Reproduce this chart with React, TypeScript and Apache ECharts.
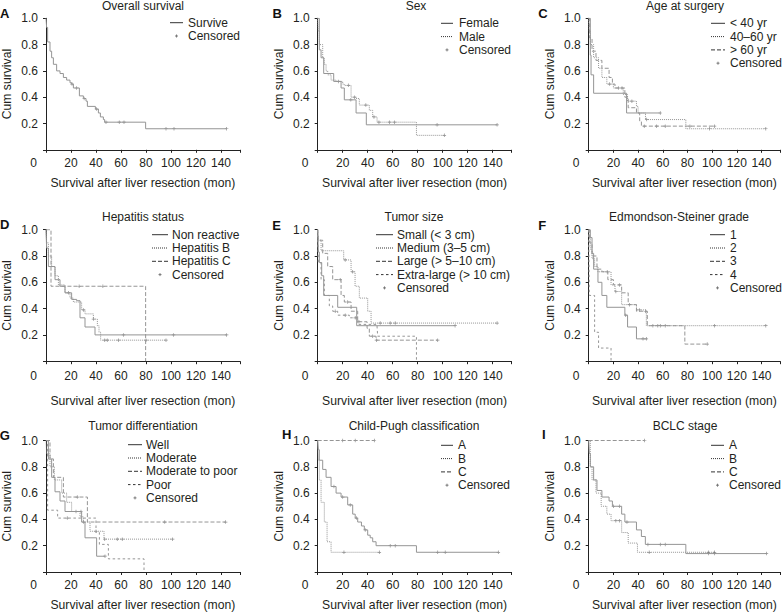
import React, { useEffect, useRef } from 'react';
import * as echarts from 'echarts';

type Pt = [number, number];

// ---------- Data (months, cumulative survival) ----------
// A. Overall survival
const aSurvive: Pt[] = [[0,1],[0.5,0.93],[1.3,0.82],[3.2,0.75],[4.5,0.7],[5.9,0.65],[8.5,0.6],[11.2,0.58],[13.9,0.55],[16.5,0.53],[19.2,0.51],[20.5,0.5],[21.9,0.47],[26.7,0.41],[29.9,0.39],[32,0.37],[33.1,0.33],[39.5,0.31],[41.9,0.28],[43.5,0.25],[45.9,0.23],[46.9,0.21],[79.7,0.16],[144.5,0.16]];
const aSurviveCens = [20.8, 24.5, 30.5, 40.5, 48, 58.6, 62.4, 96, 102.4, 144.5];
// B. Sex
const bFemale: Pt[] = [[0,1],[1.3,0.76],[2.7,0.7],[4.8,0.58],[12.8,0.52],[18.7,0.47],[21.3,0.38],[30.7,0.28],[38.9,0.19],[143.5,0.19]];
const bFemaleCens = [26.5, 95.5, 143.5];
const bMale: Pt[] = [[0,1],[0.5,0.9],[1.3,0.8],[4,0.7],[5.3,0.65],[6.7,0.6],[8,0.57],[10.7,0.53],[14.7,0.52],[20,0.5],[21.3,0.49],[26.7,0.4],[30.7,0.39],[33.3,0.34],[41.3,0.3],[44,0.25],[47.5,0.21],[79,0.11],[101.3,0.11]];
const bMaleCens = [16.5, 24.5, 29.5, 38.5, 45, 49, 57.5, 61.5, 101.3];
// C. Age at surgery
const cYoung: Pt[] = [[0,1],[1.3,0.72],[1.9,0.57],[4,0.43],[30.7,0.28],[58,0.28]];
const cYoungCens = [58];
const cMiddle: Pt[] = [[0,1],[0.5,0.9],[1.3,0.8],[4,0.7],[8,0.62],[10.7,0.55],[14.7,0.5],[20,0.47],[28,0.42],[31.5,0.37],[38.7,0.33],[40,0.28],[46,0.23],[78.7,0.16],[143.5,0.16]];
const cMiddleCens = [17, 24, 35, 47, 98, 143.5];
const cOld: Pt[] = [[0,1],[0.8,0.85],[2.7,0.75],[5.9,0.68],[10.7,0.62],[16.5,0.55],[19.2,0.5],[21.3,0.47],[29.3,0.4],[32,0.32],[38.7,0.28],[41.3,0.22],[42.7,0.18],[101.9,0.18]];
const cOldCens = [27, 45, 55, 62, 82, 101.9];
// D. Hepatitis status
const dNon: Pt[] = [[0,1],[0.5,0.86],[1.9,0.72],[7.2,0.62],[11.2,0.57],[15.2,0.52],[20.5,0.47],[24.5,0.46],[27.2,0.33],[31.2,0.26],[39.2,0.2],[144.5,0.2]];
const dNonCens = [62, 102, 144.5];
const dHepB: Pt[] = [[0,1],[0.5,0.9],[1.9,0.8],[4.5,0.72],[7.2,0.65],[9.9,0.58],[15.2,0.52],[19.2,0.48],[21.9,0.45],[28.5,0.39],[31.2,0.36],[37.9,0.32],[41.1,0.27],[42.4,0.22],[43.7,0.16],[96,0.16]];
const dHepBCens = [18, 30, 38, 47, 49, 58, 80, 96];
const dHepC: Pt[] = [[0,1],[4,0.57],[79.7,0]];
const dHepCCens = [26.5, 45.5];
// E. Tumor size
const eSmall: Pt[] = [[0,1],[0.5,0.83],[1.3,0.75],[3.2,0.65],[4.8,0.5],[16,0.41],[31.2,0.27],[109.9,0.27]];
const eSmallCens = [109.9];
const eMedium: Pt[] = [[0,1],[0.5,0.92],[2.7,0.84],[20.8,0.77],[26.7,0.68],[29.9,0.57],[33.3,0.48],[40,0.38],[42.7,0.29],[143.5,0.29]];
const eMediumCens = [22, 28, 50, 58, 62, 143.5];
const eLarge: Pt[] = [[0,1],[0.5,0.92],[4,0.82],[8,0.72],[12,0.62],[18.7,0.5],[21.3,0.45],[26.7,0.38],[32,0.3],[39.5,0.25],[41.3,0.19],[46.7,0.16],[96,0.16]];
const eLargeCens = [18, 24, 33, 44, 47, 96];
const eXLarge: Pt[] = [[0,1],[0.5,0.75],[2.7,0.62],[5.3,0.5],[9.3,0.42],[12,0.38],[16,0.35],[25.3,0.33],[32,0.28],[47.5,0.26],[48,0.19],[79,0]];
const eXLargeCens = [14, 22, 30];
// F. Edmondson-Steiner grade
const fG1: Pt[] = [[0,1],[1.3,0.94],[2.7,0.82],[4,0.7],[7.5,0.6],[10.7,0.5],[14.7,0.41],[29.3,0.35],[31.5,0.26],[38.7,0.17],[46.7,0.17]];
const fG1Cens = [30, 44, 46.7];
const fG2: Pt[] = [[0,1],[0.5,0.94],[1.3,0.85],[2.7,0.78],[4.8,0.72],[7.5,0.68],[18.1,0.58],[21.3,0.53],[26.7,0.43],[38.7,0.39],[46.7,0.27],[143.5,0.27]];
const fG2Cens = [15, 22, 41, 52, 58, 62, 102, 143.5];
const fG3: Pt[] = [[0,1],[0.8,0.9],[2.7,0.8],[6.7,0.7],[10.7,0.68],[15.5,0.62],[20,0.58],[26.7,0.52],[32,0.43],[38.7,0.38],[47.5,0.27],[77.9,0.13],[96,0.13]];
const fG3Cens = [25, 33, 46, 56, 96];
const fG4: Pt[] = [[0,1],[0.5,0.5],[4.8,0.22],[8,0.1],[18.1,0]];
const fG4Cens: number[] = [];
// G. Tumor differentiation
const gWell: Pt[] = [[0,1],[1.9,0.86],[4.5,0.72],[7.2,0.61],[11.2,0.54],[15.2,0.46],[28.5,0.38],[31.2,0.26],[40.5,0.12],[47.2,0.12]];
const gWellCens = [28, 47.2];
const gModerate: Pt[] = [[0,1],[0.5,0.9],[3.2,0.8],[6.7,0.7],[12.5,0.6],[16.5,0.53],[20.5,0.46],[27.2,0.42],[29.9,0.38],[35.2,0.31],[46.4,0.25],[101.3,0.25]];
const gModerateCens = [24, 30, 40, 47, 57, 61, 101.3];
const gModPoor: Pt[] = [[0,1],[3.2,0.86],[5.9,0.72],[13.9,0.57],[33.1,0.38],[143.7,0.38]];
const gModPoorCens = [25, 95, 143.7];
const gPoor: Pt[] = [[0,1],[1.3,0.47],[9.3,0.41],[40,0.3],[42.7,0.21],[49.9,0.1],[78.4,0]];
const gPoorCens = [17];
// H. Child-Pugh classification
const hA: Pt[] = [[0,1],[0.5,0.93],[1.3,0.85],[4,0.78],[6.7,0.72],[10.7,0.65],[14.7,0.6],[18.7,0.57],[24,0.51],[28,0.44],[30,0.41],[32,0.38],[35,0.35],[37.3,0.32],[40,0.28],[42,0.26],[44,0.23],[46.7,0.2],[79,0.15],[144.5,0.15]];
const hACens = [13, 20, 26, 31, 38, 58, 62, 96, 102, 144.5];
const hB: Pt[] = [[0,1],[0.5,0.85],[1.3,0.7],[2.7,0.53],[5.3,0.38],[7.5,0.23],[10.7,0.15],[49.3,0.15]];
const hBCens = [21, 49.3];
const hC: Pt[] = [[0,1],[45.3,1]];
const hCCens = [20, 30, 45.3];
// I. BCLC stage
const iA: Pt[] = [[0,1],[0.5,0.9],[1.3,0.8],[4,0.7],[6.7,0.62],[10.7,0.57],[16.5,0.54],[19.2,0.5],[26.7,0.44],[29.3,0.38],[38.7,0.32],[42.7,0.27],[45.9,0.21],[78.7,0.14],[144,0.14]];
const iACens = [20, 25, 31, 48, 58, 62, 97, 102, 144];
const iB: Pt[] = [[0,1],[1.3,0.8],[2.7,0.7],[5.9,0.6],[10.1,0.5],[14.7,0.44],[18.1,0.39],[26.7,0.3],[32,0.22],[39.5,0.15],[101.9,0.15]];
const iBCens = [22, 25, 49, 97, 101.9];
const iC: Pt[] = [[0,1],[45.3,1]];
const iCCens = [45.3];

const xTicks = [0, 20, 40, 60, 80, 100, 120, 140];
const yTicks = [0.2, 0.4, 0.6, 0.8, 1.0];

type Grp = { name: string; dash: string; curve: Pt[]; cens: number[] };
const panels: { letter: string; title: string; groups: Grp[] }[] = [
  { letter: 'A', title: 'Overall survival', groups: [{ name: 'Survive', dash: 'solid', curve: aSurvive, cens: aSurviveCens }] },
  { letter: 'B', title: 'Sex', groups: [
    { name: 'Female', dash: 'solid', curve: bFemale, cens: bFemaleCens },
    { name: 'Male', dash: 'dotted', curve: bMale, cens: bMaleCens }] },
  { letter: 'C', title: 'Age at surgery', groups: [
    { name: '< 40 yr', dash: 'solid', curve: cYoung, cens: cYoungCens },
    { name: '40–60 yr', dash: 'dotted', curve: cMiddle, cens: cMiddleCens },
    { name: '> 60 yr', dash: 'dashed', curve: cOld, cens: cOldCens }] },
  { letter: 'D', title: 'Hepatitis status', groups: [
    { name: 'Non reactive', dash: 'solid', curve: dNon, cens: dNonCens },
    { name: 'Hepatitis B', dash: 'dotted', curve: dHepB, cens: dHepBCens },
    { name: 'Hepatitis C', dash: 'dashed', curve: dHepC, cens: dHepCCens }] },
  { letter: 'E', title: 'Tumor size', groups: [
    { name: 'Small (< 3 cm)', dash: 'solid', curve: eSmall, cens: eSmallCens },
    { name: 'Medium (3–5 cm)', dash: 'dotted', curve: eMedium, cens: eMediumCens },
    { name: 'Large (> 5–10 cm)', dash: 'dashed', curve: eLarge, cens: eLargeCens },
    { name: 'Extra-large (> 10 cm)', dash: 'short', curve: eXLarge, cens: eXLargeCens }] },
  { letter: 'F', title: 'Edmondson-Steiner grade', groups: [
    { name: '1', dash: 'solid', curve: fG1, cens: fG1Cens },
    { name: '2', dash: 'dotted', curve: fG2, cens: fG2Cens },
    { name: '3', dash: 'dashed', curve: fG3, cens: fG3Cens },
    { name: '4', dash: 'short', curve: fG4, cens: fG4Cens }] },
  { letter: 'G', title: 'Tumor differentiation', groups: [
    { name: 'Well', dash: 'solid', curve: gWell, cens: gWellCens },
    { name: 'Moderate', dash: 'dotted', curve: gModerate, cens: gModerateCens },
    { name: 'Moderate to poor', dash: 'dashed', curve: gModPoor, cens: gModPoorCens },
    { name: 'Poor', dash: 'short', curve: gPoor, cens: gPoorCens }] },
  { letter: 'H', title: 'Child-Pugh classification', groups: [
    { name: 'A', dash: 'solid', curve: hA, cens: hACens },
    { name: 'B', dash: 'dotted', curve: hB, cens: hBCens },
    { name: 'C', dash: 'dashed', curve: hC, cens: hCCens }] },
  { letter: 'I', title: 'BCLC stage', groups: [
    { name: 'A', dash: 'solid', curve: iA, cens: iACens },
    { name: 'B', dash: 'dotted', curve: iB, cens: iBCens },
    { name: 'C', dash: 'dashed', curve: iC, cens: iCCens }] },
];

// ---------- Layout ----------
const layouts = [
  { left: 46, top: 18.3, lx: 170, ll: 13, tx: 188, ly: 22.7, titleX: 143, titleY: 6, letX: 4.7, letY: 13.3, lblMargin: 7, nameGap: 27 },
  { left: 317.7, top: 18.3, lx: 441, ll: 12, tx: 459, ly: 23.3, titleX: 416, titleY: 6, letX: 277.3, letY: 13.3, lblMargin: 7, nameGap: 27 },
  { left: 588.7, top: 18.3, lx: 711, ll: 14, tx: 730, ly: 23.3, titleX: 685, titleY: 6, letX: 543, letY: 13.8, lblMargin: 7, nameGap: 27 },
  { left: 46, top: 229.7, lx: 152, ll: 16, tx: 172, ly: 234.7, titleX: 143, titleY: 217.3, letX: 4.7, letY: 224.8, lblMargin: 9, nameGap: 34 },
  { left: 317.7, top: 229.7, lx: 376, ll: 17, tx: 397, ly: 234.7, titleX: 414, titleY: 217.3, letX: 276.5, letY: 225.5, lblMargin: 9, nameGap: 34 },
  { left: 588.7, top: 229.7, lx: 710, ll: 15, tx: 730, ly: 234.7, titleX: 679, titleY: 217.3, letX: 542.3, letY: 225.5, lblMargin: 9, nameGap: 34 },
  { left: 46, top: 440.5, lx: 128, ll: 14, tx: 146, ly: 444.7, titleX: 143, titleY: 426.3, letX: 4.7, letY: 435.2, lblMargin: 7, nameGap: 27 },
  { left: 317.7, top: 440.5, lx: 441, ll: 12, tx: 458, ly: 445.3, titleX: 414, titleY: 426.3, letX: 286.7, letY: 434.7, lblMargin: 7, nameGap: 27 },
  { left: 588.7, top: 440.5, lx: 711, ll: 13, tx: 729, ly: 445.3, titleX: 685, titleY: 426.3, letX: 543.7, letY: 434.7, lblMargin: 7, nameGap: 27 },
];
const GRID_W = 193.75;
const GRID_H = 131.5;
const LEG_DY = 13.3;

const FONT = '"Liberation Sans", Arial, Helvetica, sans-serif';
const TEXT = '#231f20';
const CURVE = '#959595';
const CENS = '#707070';
const DASHES: Record<string, any> = { solid: 'solid', dotted: [1, 1], dashed: [4, 2], short: [2.5, 2.5] };
const PLUS = 'path://M-1,-0.2H1V0.2H-1Z M-0.2,-1H0.2V1H-0.2Z';

function survivalAt(curve: Pt[], t: number) {
  let s = curve[0][1];
  for (const [x, y] of curve) {
    if (x <= t) s = y;
    else break;
  }
  return s;
}

function buildOption() {
  const grid: any[] = [];
  const xAxis: any[] = [];
  const yAxis: any[] = [];
  const series: any[] = [];
  const graphic: any[] = [];

  panels.forEach((p, i) => {
    const L = layouts[i];
    grid.push({ left: L.left, top: L.top, width: GRID_W, height: GRID_H, containLabel: false });
    xAxis.push({
      type: 'value', gridIndex: i, min: 0, max: 155, interval: 20,
      name: 'Survival after liver resection (mon)', nameLocation: 'middle', nameGap: L.nameGap,
      nameTextStyle: { fontSize: 12.2, color: TEXT, fontFamily: FONT },
      axisLine: { show: true, lineStyle: { color: '#222', width: 1 } },
      axisTick: { show: true, length: 3, lineStyle: { color: '#222' } },
      splitLine: { show: false },
      axisLabel: {
        margin: L.lblMargin, fontSize: 12, color: TEXT, fontFamily: FONT,
        formatter: (v: number) => (v === 0 ? '{z|0}' : xTicks.includes(v) ? String(v) : ''),
        rich: { z: { padding: [0, 25, 0, 0], fontSize: 12, color: TEXT, fontFamily: FONT } },
      },
    });
    yAxis.push({
      type: 'value', gridIndex: i, min: 0, max: 1, interval: 0.2,
      name: 'Cum survival', nameLocation: 'middle', nameGap: 33,
      nameTextStyle: { fontSize: 12.2, color: TEXT, fontFamily: FONT },
      axisLine: { show: true, lineStyle: { color: '#222', width: 1 } },
      axisTick: { show: true, length: 3, lineStyle: { color: '#222' } },
      splitLine: { show: false },
      axisLabel: {
        margin: 8, fontSize: 12, color: TEXT, fontFamily: FONT,
        formatter: (v: number) => (yTicks.some((t) => Math.abs(t - v) < 1e-6) ? v.toFixed(1) : ''),
      },
    });

    p.groups.forEach((g, gi) => {
      series.push({
        type: 'line', xAxisIndex: i, yAxisIndex: i, step: 'end', symbol: 'none', showSymbol: false,
        silent: true, data: g.curve,
        lineStyle: { color: CURVE, width: 1, type: DASHES[g.dash] },
      });
      if (g.cens.length) {
        series.push({
          type: 'scatter', xAxisIndex: i, yAxisIndex: i, symbol: PLUS, symbolSize: 3.5, silent: true,
          data: g.cens.map((t) => [t, survivalAt(g.curve, t)]),
          itemStyle: { color: CENS },
        });
      }
      const y = L.ly + gi * LEG_DY;
      graphic.push({
        type: 'line', silent: true,
        shape: { x1: L.lx, y1: y, x2: L.lx + L.ll, y2: y },
        style: { stroke: '#333', lineWidth: 1, lineDash: g.dash === 'solid' ? null : DASHES[g.dash] },
      });
      graphic.push({
        type: 'text', silent: true, x: L.tx, y,
        style: { text: g.name, fontSize: 12, fontFamily: FONT, fill: TEXT, align: 'left', verticalAlign: 'middle' },
      });
    });
    // Censored legend row
    const cy = L.ly + p.groups.length * LEG_DY;
    const cx = L.lx + L.ll / 2;
    graphic.push({ type: 'line', silent: true, shape: { x1: cx - 1.5, y1: cy, x2: cx + 1.5, y2: cy }, style: { stroke: CENS, lineWidth: 0.9 } });
    graphic.push({ type: 'line', silent: true, shape: { x1: cx, y1: cy - 1.5, x2: cx, y2: cy + 1.5 }, style: { stroke: CENS, lineWidth: 0.9 } });
    graphic.push({
      type: 'text', silent: true, x: L.tx, y: cy,
      style: { text: 'Censored', fontSize: 12, fontFamily: FONT, fill: TEXT, align: 'left', verticalAlign: 'middle' },
    });
    // Title
    graphic.push({
      type: 'text', silent: true, x: L.titleX, y: L.titleY,
      style: { text: p.title, fontSize: 12, fontFamily: FONT, fill: TEXT, align: 'center', verticalAlign: 'middle' },
    });
    // Panel letter
    graphic.push({
      type: 'text', silent: true, x: L.letX, y: L.letY,
      style: { text: p.letter, fontSize: 13, fontWeight: 'bold', fontFamily: FONT, fill: '#111', align: 'center', verticalAlign: 'middle' },
    });
  });

  return {
    animation: false,
    backgroundColor: '#ffffff',
    textStyle: { fontFamily: FONT },
    grid, xAxis, yAxis, series, graphic,
  };
}

export default function App() {
  const ref = useRef<HTMLDivElement>(null);
  useEffect(() => {
    document.body.style.margin = '0';
    if (!ref.current) return;
    const chart = echarts.init(ref.current, undefined, { renderer: 'svg' });
    chart.setOption(buildOption() as any);
    return () => chart.dispose();
  }, []);
  return <div ref={ref} style={{ width: 783, height: 612 }} />;
}
